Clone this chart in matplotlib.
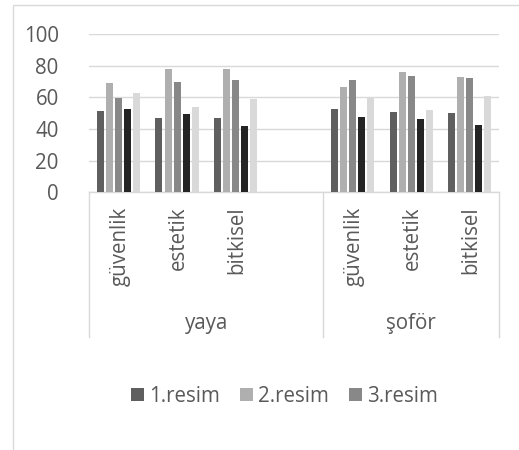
import numpy as np
import matplotlib
matplotlib.use("Agg")
import matplotlib.pyplot as plt
from matplotlib.patches import Rectangle, Patch
from matplotlib.lines import Line2D
from matplotlib.transforms import blended_transform_factory

plt.rcParams['font.family'] = ['Open Sans', 'DejaVu Sans']

# Inner categories (the empty slot is a blank category inside "yaya")
categories = ["güvenlik", "estetik", "bitkisel", "", "güvenlik", "estetik", "bitkisel"]
groups = ["yaya", "şoför"]
group_sizes = [4, 3]

series_names = ["1.resim", "2.resim", "3.resim", "", ""]
s1 = [51.2, 46.9, 46.9, np.nan, 52.6, 50.5, 49.9]
s2 = [69.2, 77.9, 77.9, np.nan, 66.3, 75.8, 72.6]
s3 = [59.6, 69.9, 70.9, np.nan, 70.9, 73.5, 72.2]
s4 = [52.6, 49.5, 41.9, np.nan, 47.6, 46.3, 42.5]
s5 = [62.9, 53.9, 59.2, np.nan, 59.6, 52.2, 60.8]
series = [s1, s2, s3, s4, s5]
colors = ["#5f5f5f", "#afafaf", "#888888", "#242424", "#d9d9d9"]

yticks = [0, 20, 40, 60, 80, 100]

FS = 14.8
TXT = "#595959"
W, H = 519, 450
fig = plt.figure(figsize=(W / 100, H / 100), dpi=100)

# chart frame
fig.add_artist(Rectangle((13 / W, -0.1), 1.2, (H - 5) / H + 0.1,
                         transform=fig.transFigure, fill=False,
                         edgecolor="#d9d9d9", linewidth=1.0))

left, right = 89.3, 499.0
top, bottom = 34.0, 192.3
ax = fig.add_axes([left / W, (H - bottom) / H, (right - left) / W, (bottom - top) / H])

n = len(categories)
x = np.arange(n) + 0.5
slot_px = (right - left) / n
step = 9.05 / slot_px
width = 7.0 / slot_px
for i, (vals, c) in enumerate(zip(series, colors)):
    ax.bar(x + (i - 2) * step, vals, width=width, color=c, zorder=3)

ax.set_xlim(0, n)
ax.set_ylim(0, 100)
for s in ["top", "right", "left"]:
    ax.spines[s].set_visible(False)
ax.spines["bottom"].set_color("#d9d9d9")
ax.spines["bottom"].set_linewidth(1.0)
ax.set_yticks(yticks)
ax.yaxis.grid(True, color="#d9d9d9", linewidth=1.0, zorder=0)
ax.tick_params(axis="y", length=0, pad=22, labelsize=FS, labelcolor=TXT)
ax.set_xticks([])

# inner category labels
lab_tr = blended_transform_factory(ax.transData, ax.transAxes)
axh = bottom - top
for xi, lab in zip(x, categories):
    if lab:
        ax.text(xi + 1.5 / slot_px, -14.0 / axh, lab, rotation=90, ha="center", va="top",
                fontsize=FS, color=TXT, transform=lab_tr, clip_on=False)

# outer group labels and separators
edges = np.concatenate([[0], np.cumsum(group_sizes)])
for e in edges:
    ax.add_line(Line2D([e, e], [0, -(336.7 - bottom) / axh], transform=lab_tr,
                       color="#d9d9d9", linewidth=1.0, clip_on=False))
for g, a, b in zip(groups, edges[:-1], edges[1:]):
    ax.text((a + b) / 2, -(323 - bottom) / axh, g, ha="center", va="center",
            fontsize=FS, color=TXT, transform=lab_tr, clip_on=False)

handles = [Patch(facecolor=colors[i], edgecolor="none", label=series_names[i]) for i in range(3)]
fig.legend(handles=handles, loc="center", bbox_to_anchor=(284.5 / W, 1 - 396.7 / H),
           ncol=3, frameon=False, fontsize=FS, labelcolor=TXT,
           handlelength=0.6, handleheight=0.6, handletextpad=0.25, columnspacing=1.0)

fig.savefig("out.png", dpi=100)
